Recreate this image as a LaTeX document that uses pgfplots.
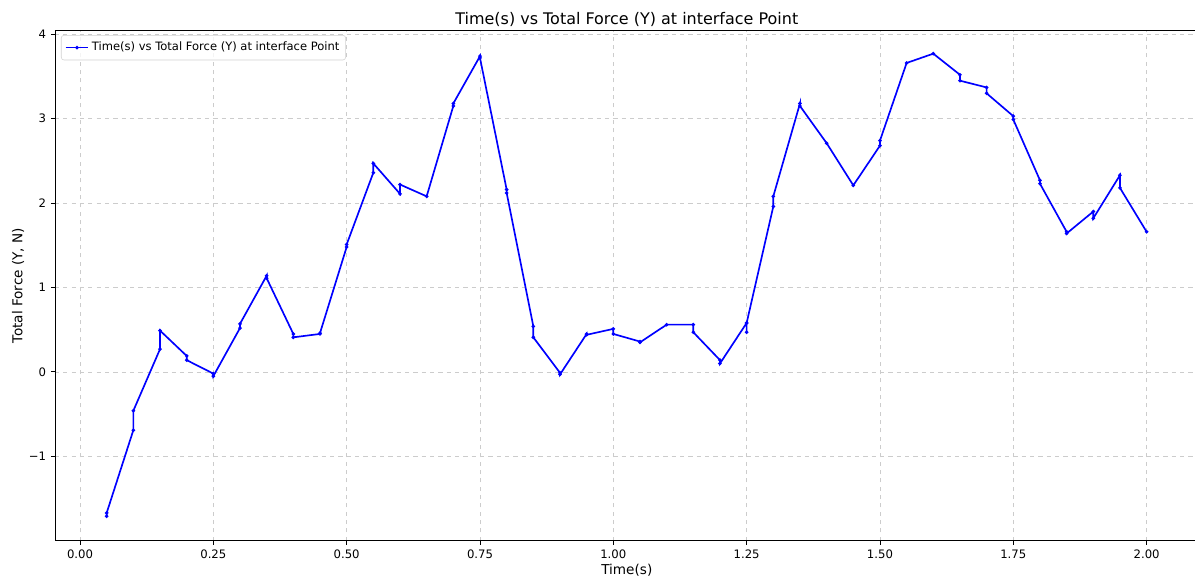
\documentclass[border=0pt]{standalone}
\usepackage{pgfplots}
\pgfplotsset{compat=1.18}
\usepackage{fontspec}
\setmainfont{DejaVu Sans}
\definecolor{gridc}{RGB}{204,204,204}
\begin{document}
\begin{tikzpicture}
\begin{axis}[
  at={(0,0)}, anchor=south west,
  scale only axis,
  width=823.4pt, height=367.5pt,
  xmin=-0.0469, xmax=2.0975,
  ymin=-1.999, ymax=4.047,
  xtick={0,0.25,0.5,0.75,1,1.25,1.5,1.75,2},
  xticklabels={0.00,0.25,0.50,0.75,1.00,1.25,1.50,1.75,2.00},
  ytick={-1,0,1,2,3,4},
  yticklabels={−1,0,1,2,3,4},
  xtick pos=lower, ytick pos=left,
  tick align=outside,
  major tick length=2.9pt,
  tick style={black, line width=0.66pt},
  ticklabel style={font=\fontsize{8.4}{10}\selectfont},
  axis line style={line width=0.66pt},
  grid=major,
  grid style={gridc, dashed, line width=0.5pt},
  title={Time(s) vs Total Force (Y) at interface Point},
  title style={font=\fontsize{11.5}{13}\selectfont, yshift=-7pt},
  xlabel={Time(s)},
  ylabel={Total Force (Y, N)},
  xlabel style={font=\fontsize{9.8}{12}\selectfont, at={(axis description cs:0.5,-0.0574)}, anchor=center},
  ylabel style={font=\fontsize{9.8}{12}\selectfont, at={(axis description cs:-0.0323,0.5)}, anchor=center},
  legend style={at={(0,1)}, anchor=north west, xshift=4.3pt, yshift=-3.4pt,
    draw=gray!35, rounded corners=2pt, fill=white, fill opacity=0.8, text opacity=1,
    font=\fontsize{8.3}{10}\selectfont, inner xsep=2.5pt, inner ysep=3pt},
  legend cell align=left,
  legend image code/.code={%
    \draw[mark repeat=2,mark phase=2,#1] plot coordinates {(0pt,0pt) (8.2pt,0pt) (16.4pt,0pt)};},
]
\addplot[blue, line width=1.2pt, mark=*, mark size=0.6pt] table {
x y
0.05 -1.71
0.05 -1.67
0.10 -0.69
0.10 -0.46
0.15 0.27
0.15 0.49
0.20 0.19
0.20 0.14
0.25 -0.02
0.25 -0.05
0.30 0.52
0.30 0.57
0.35 1.14
0.35 1.11
0.40 0.45
0.40 0.41
0.45 0.45
0.45 0.46
0.50 1.48
0.50 1.51
0.55 2.36
0.55 2.47
0.60 2.11
0.60 2.22
0.65 2.08
0.70 3.15
0.70 3.18
0.75 3.74
0.75 3.72
0.80 2.16
0.80 2.12
0.85 0.54
0.85 0.41
0.90 -0.01
0.90 -0.03
0.95 0.45
0.95 0.44
1.00 0.51
1.00 0.45
1.05 0.36
1.05 0.35
1.10 0.56
1.15 0.56
1.15 0.47
1.20 0.14
1.20 0.10
1.25 0.58
1.25 0.47
1.25 0.58
1.30 1.96
1.30 2.08
1.35 3.18
1.35 3.15
1.40 2.71
1.45 2.21
1.50 2.68
1.50 2.74
1.55 3.66
1.60 3.77
1.65 3.52
1.65 3.45
1.70 3.37
1.70 3.30
1.75 3.03
1.75 2.99
1.80 2.27
1.80 2.23
1.85 1.66
1.85 1.64
1.90 1.90
1.90 1.82
1.95 2.33
1.95 2.18
2.00 1.66
};
\addlegendentry{Time(s) vs Total Force (Y) at interface Point}
\end{axis}
\pgfresetboundingbox
\useasboundingbox (-39.6pt,-29.0pt) rectangle (820.8pt,389.3pt);
\end{tikzpicture}
\end{document}
